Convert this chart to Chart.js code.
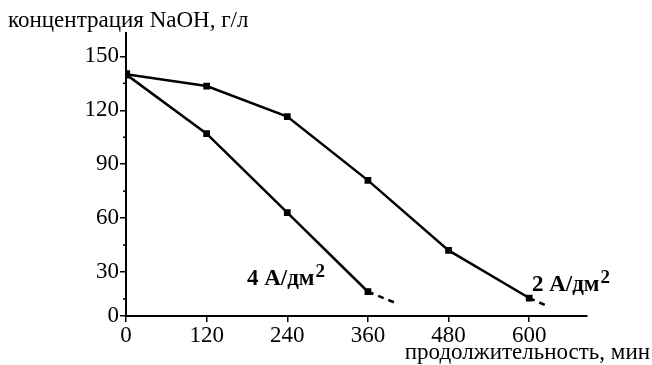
<!DOCTYPE html>
<html>
<head>
<meta charset="utf-8">
<script src="https://cdn.jsdelivr.net/npm/chart.js@4.4.1/dist/chart.umd.min.js"></script>
<style>
  html, body { margin: 0; padding: 0; background: #fff; }
  #wrap { width: 652px; height: 365px; position: relative; }
</style>
</head>
<body>
<div id="wrap"><canvas id="chart"></canvas></div>
<script>
// time, min
const times2 = [0, 120, 240, 360, 480, 600];
const times4 = [0, 120, 240, 360];
// NaOH concentration, g/l
const conc2 = [140, 133.5, 116.5, 81, 42, 15.5];
const conc4 = [140, 107, 63, 19];
// dashed extrapolation tails
const tail2 = [[600, 15.5], [630, 10.5]];
const tail4 = [[360, 19], [403, 12.5]];

const xTicks = [0, 120, 240, 360, 480, 600];
const yTicks = [30, 60, 90, 120, 150];
const yMinorTicks = [15, 45, 75, 105, 135];
// the original x axis sits a little above zero, but carries the "0" label
const yAxisBase = 5.5;

const serif = '"Liberation Serif", "DejaVu Serif", serif';

const toPts = (xs, ys) => xs.map((x, i) => ({ x, y: ys[i] }));

// "N A/дм" with a raised 2
function curveLabel(ctx, text, x, y) {
  ctx.font = 'bold 23px ' + serif;
  ctx.fillText(text, x, y);
  const w = ctx.measureText(text).width;
  ctx.font = 'bold 19px ' + serif;
  ctx.fillText('2', x + w + 1, y - 7);
}

// minor ticks, curve labels and axis titles
const extras = {
  id: 'extras',
  afterDraw(chart) {
    const { ctx } = chart;
    const xs = chart.scales.x, ys = chart.scales.y;
    ctx.save();
    ctx.strokeStyle = '#000';
    ctx.lineWidth = 1.5;
    const x0 = xs.left;
    yMinorTicks.forEach(v => {
      const py = ys.getPixelForValue(v);
      ctx.beginPath();
      ctx.moveTo(x0 - 3, py);
      ctx.lineTo(x0, py);
      ctx.stroke();
    });

    ctx.fillStyle = '#000';
    ctx.textBaseline = 'middle';
    ctx.textAlign = 'left';
    curveLabel(ctx, '4 A/дм', xs.getPixelForValue(180), ys.getPixelForValue(26));
    curveLabel(ctx, '2 A/дм', xs.getPixelForValue(604), ys.getPixelForValue(22.5));

    ctx.font = '23px ' + serif;
    ctx.textBaseline = 'alphabetic';
    ctx.fillText('концентрация NaOH, г/л', 8, 27);
    ctx.textAlign = 'right';
    ctx.fillText('продолжительность, мин', 650, 359);
    ctx.restore();
  }
};

const lineStyle = {
  borderColor: '#000',
  backgroundColor: '#000',
  borderWidth: 2.5,
  pointStyle: 'rect',
  pointRadius: 3,
  tension: 0
};

new Chart(document.getElementById('chart'), {
  type: 'scatter',
  data: {
    datasets: [
      { ...lineStyle, showLine: true, pointRadius: [4, 3, 3, 3, 3, 3], data: toPts(times2, conc2) },
      { ...lineStyle, showLine: true, data: toPts(times4, conc4) },
      { ...lineStyle, showLine: true, pointRadius: 0, borderDash: [6, 5],
        data: tail2.map(p => ({ x: p[0], y: p[1] })) },
      { ...lineStyle, showLine: true, pointRadius: 0, borderDash: [6, 5],
        data: tail4.map(p => ({ x: p[0], y: p[1] })) }
    ]
  },
  options: {
    responsive: true,
    maintainAspectRatio: false,
    animation: false,
    layout: { padding: { top: 33, right: 65, bottom: 0, left: 0 } },
    plugins: { legend: { display: false }, tooltip: { enabled: false } },
    scales: {
      x: {
        type: 'linear',
        min: 0,
        max: 686,
        afterBuildTicks(scale) { scale.ticks = xTicks.map(v => ({ value: v })); },
        afterFit(scale) { scale.height = 49; },
        grid: { drawOnChartArea: false, drawTicks: true, tickLength: 6, color: '#000', lineWidth: 1.5 },
        border: { display: true, color: '#000', width: 2 },
        ticks: { color: '#000', font: { family: serif, size: 23 }, padding: 0, maxRotation: 0 }
      },
      y: {
        type: 'linear',
        min: yAxisBase,
        max: 163,
        afterBuildTicks(scale) {
          scale.ticks = [yAxisBase].concat(yTicks).map(v => ({ value: v }));
        },
        afterFit(scale) { scale.width = 126; },
        grid: { drawOnChartArea: false, drawTicks: true, tickLength: 6, color: '#000', lineWidth: 1.5 },
        border: { display: true, color: '#000', width: 2 },
        ticks: {
          color: '#000',
          font: { family: serif, size: 23 },
          padding: 1,
          callback: v => (v === yAxisBase ? '0' : String(v))
        }
      }
    }
  },
  plugins: [extras]
});
</script>
</body>
</html>
